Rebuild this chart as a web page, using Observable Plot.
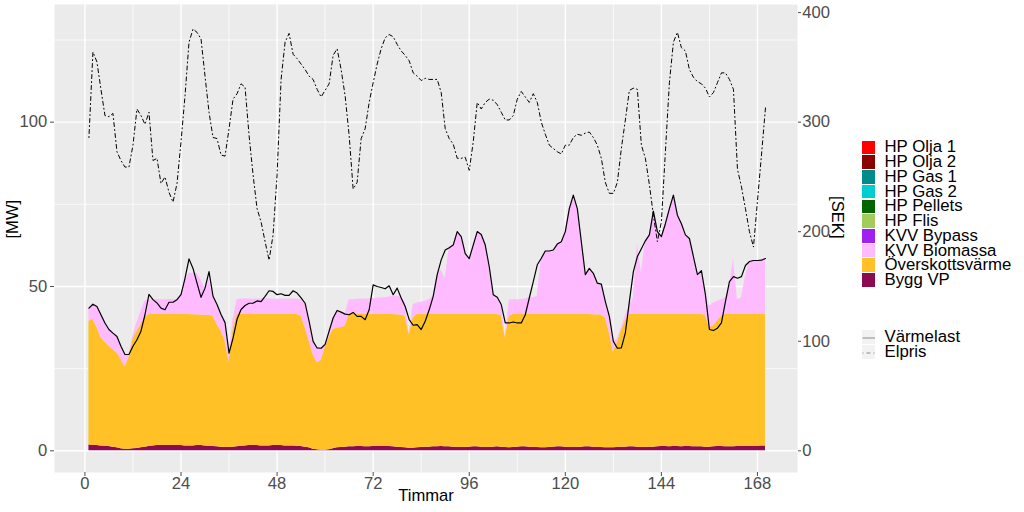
<!DOCTYPE html>
<html><head><meta charset="utf-8">
<script src="https://cdn.jsdelivr.net/npm/d3@7"></script>
<script src="https://cdn.jsdelivr.net/npm/@observablehq/plot@0.6"></script>
<style>
body{margin:0;background:#fff;}
#wrap{position:relative;width:1024px;height:512px;font-family:"Liberation Sans",Arial,sans-serif;}
.leg{position:absolute;left:861.5px;font-size:16.8px;color:#000;font-family:"Liberation Sans",Arial,sans-serif;}
.row{height:14.74px;display:flex;align-items:center;white-space:nowrap;}
.sw{width:13.5px;height:13.5px;margin-right:9.5px;flex:none;}
.lk{width:13.5px;height:14px;margin-right:9.5px;flex:none;background:#F2F2F2;}
</style></head><body><div id="wrap"></div>
<script>
const hours = d3.range(1, 171);
const seriesNames = ["HP Olja 1","HP Olja 2","HP Gas 1","HP Gas 2","HP Pellets","HP Flis","KVV Bypass","KVV Biomassa","Överskottsvärme","Bygg VP"];
const seriesColors = ["#FF0000","#8B0000","#008B8B","#00CED1","#006400","#A2CD5A","#A020F0","#FFBBFF","#FFC125","#8B0A50"];
const lineNames = ["Värmelast","Elpris"];

const byggVP = [1.8,1.7,1.6,1.5,1.4,1.3,1.1,0.9,0.6,0.5,
0.5,0.6,0.7,0.9,1.1,1.3,1.5,1.6,1.6,1.6,
1.6,1.6,1.6,1.6,1.5,1.5,1.5,1.6,1.6,1.5,
1.4,1.3,1.2,1.1,1.0,1.0,1.1,1.2,1.4,1.5,
1.6,1.6,1.6,1.5,1.5,1.5,1.6,1.6,1.6,1.5,
1.5,1.5,1.4,1.3,1.1,0.9,0.5,0.3,0.2,0.2,
0.3,0.6,0.9,1.0,1.1,1.2,1.2,1.3,1.3,1.2,
1.2,1.3,1.4,1.4,1.3,1.3,1.2,1.1,1.0,0.9,
0.8,0.8,0.9,1.0,1.1,1.1,1.2,1.2,1.3,1.2,
1.2,1.1,1.1,1.0,1.0,1.1,1.2,1.2,1.1,1.0,
1.0,1.1,1.2,1.1,1.0,0.9,1.0,1.1,1.2,1.2,
1.1,1.0,1.0,0.9,0.9,1.0,1.1,1.2,1.2,1.1,
1.0,1.0,1.0,1.1,1.2,1.2,1.1,1.0,1.0,0.9,
0.9,0.9,1.0,1.1,1.1,1.2,1.2,1.1,1.0,1.0,
1.1,1.1,1.2,1.3,1.3,1.2,1.3,1.3,1.2,1.3,
1.3,1.2,1.2,1.2,1.1,1.1,1.2,1.3,1.3,1.2,
1.2,1.2,1.3,1.3,1.4,1.4,1.4,1.4,1.5,1.5];

const overskottsvarme = [37.6,38.3,36.0,33.0,31.6,30.5,29.7,28.9,27.3,25.0,
28.0,33.4,35.7,37.5,39.3,40.2,40.0,39.9,39.9,39.9,
39.9,39.9,39.9,39.9,40.0,40.0,39.9,39.8,39.7,39.8,
39.8,39.7,37.3,35.4,32.5,26.0,35.9,40.3,40.1,40.0,
39.9,39.9,39.9,40.0,40.0,40.0,39.9,39.9,39.9,40.0,
40.0,40.0,40.1,39.7,36.4,32.6,28.8,26.5,27.3,31.3,
34.2,36.4,36.4,36.5,36.9,40.3,40.3,40.2,40.2,40.3,
40.3,40.2,40.1,40.1,40.2,40.2,40.3,40.3,40.3,40.1,
34.6,39.7,40.6,40.5,40.4,40.4,40.3,40.3,40.2,40.3,
40.3,40.4,40.4,40.5,40.5,40.4,40.3,40.3,40.4,40.5,
40.5,40.4,40.3,40.1,33.5,40.1,40.5,40.4,40.3,40.3,
40.4,40.5,40.5,40.6,40.6,40.5,40.5,40.4,40.4,40.5,
40.6,40.5,40.5,40.4,40.3,40.3,40.3,40.4,40.3,39.6,
35.1,29.1,32.0,35.4,38.4,40.3,40.3,40.4,40.5,40.5,
40.4,40.4,40.3,40.2,40.2,40.3,40.2,40.2,40.3,40.2,
40.2,40.3,40.3,40.3,40.2,36.4,36.8,38.2,39.7,40.3,
40.3,40.3,40.2,40.2,40.1,40.1,40.1,40.1,40.0,40.0];

const kvvBiomassa = [4.0,4.6,6.3,6.9,5.9,5.1,5.0,5.0,3.9,3.8,
0.8,1.0,2.6,4.1,5.1,4.5,4.5,4.6,4.5,4.5,
4.6,4.5,4.6,6.0,10.0,12.5,12.6,12.6,10.7,8.2,
10.8,6.0,6.0,5.0,5.5,2.7,3.0,4.5,4.7,4.7,
4.7,4.6,4.7,4.7,4.8,4.7,4.7,4.6,4.7,4.7,
4.7,4.7,4.7,5.0,7.4,5.9,4.0,4.5,3.7,0.9,
1.9,3.4,5.4,4.7,3.6,4.5,4.5,4.6,4.6,4.7,
4.7,4.8,4.9,5.0,5.1,5.3,5.5,5.6,5.5,4.0,
0.4,4.0,3.5,3.7,4.0,4.5,5.5,12.1,13.5,11.0,
20.3,21.1,25.2,23.7,18.5,17.0,21.1,25.2,24.3,21.1,
14.5,6.0,5.2,3.3,0.5,4.8,4.5,4.5,4.5,4.7,
5.0,5.1,5.5,17.1,19.3,19.3,19.5,21.3,22.0,25.1,
32.1,36.3,32.2,22.1,12.1,14.0,12.6,9.6,9.4,4.9,
4.9,3.3,1.0,1.0,1.5,2.5,5.0,21.5,12.5,22.4,
24.2,31.4,25.2,23.7,27.6,32.2,36.3,30.2,27.6,24.2,
23.1,17.6,12.1,13.3,6.2,6.5,7.0,6.0,5.0,5.0,
8.5,17.0,4.5,5.0,11.5,16.1,16.4,16.4,16.5,17.0];

const varmelast = [43.4,44.6,43.9,41.4,38.9,36.9,35.8,34.8,31.8,29.3,
29.3,31.8,33.8,36.4,41.4,47.6,46.0,45.0,43.4,42.9,
45.2,45.2,46.0,47.5,52.5,58.4,55.5,51.0,46.7,49.5,
54.5,47.0,44.5,41.5,39.0,29.7,34.3,40.0,43.0,44.2,
44.9,44.9,45.6,45.4,47.0,48.7,48.5,47.5,47.8,47.3,
47.3,48.7,48.0,46.5,44.9,39.4,33.3,31.3,31.2,32.4,
36.4,40.4,42.7,42.2,41.6,41.4,42.1,40.9,40.9,39.9,
42.9,50.5,50.0,49.7,49.3,50.2,47.5,49.5,46.5,43.9,
39.9,38.2,38.4,36.9,39.4,42.9,47.0,53.6,58.1,61.1,
61.8,62.6,66.7,65.2,60.0,58.5,62.6,66.7,65.8,62.6,
56.0,47.5,46.7,44.5,38.9,38.9,39.2,38.9,38.9,41.4,
46.5,51.5,56.6,58.6,60.8,60.8,61.1,62.9,63.6,66.7,
73.7,77.8,73.7,63.6,53.6,55.5,54.0,51.0,50.7,45.4,
40.9,33.3,31.2,31.3,35.9,45.4,54.5,59.1,61.5,63.9,
65.7,72.9,66.7,65.2,69.1,73.7,77.8,71.7,69.1,65.7,
64.6,59.1,53.6,54.8,47.5,36.9,36.6,37.3,38.9,45.4,
51.5,53.0,52.5,53.0,56.4,57.6,57.9,57.9,58.0,58.5];

const elpris = [286,364,355,330,306,305,308,273,265,259,
259,279,312,306,298,309,265,267,244,250,
236,227,244,282,324,373,385,382,376,342,
309,286,285,270,269,294,321,326,335,332,
288,252,221,209,191,174,197,252,339,373,
381,362,358,353,348,342,339,330,323,329,
335,361,367,348,324,288,239,245,285,294,
318,336,353,367,377,380,378,371,365,361,
356,345,342,338,340,339,339,339,327,294,
285,280,267,267,268,256,282,318,312,318,
321,320,316,309,302,302,306,321,328,323,
318,326,318,300,289,279,276,273,271,279,
279,286,289,288,290,291,286,279,267,245,
235,235,245,276,302,329,331,330,279,267,
243,215,191,209,273,336,373,382,368,365,
348,341,337,335,331,323,327,336,345,345,
339,330,257,241,221,200,186,228,270,313];

const xTicks = [0,24,48,72,96,120,144,168];
const xMinor = [12,36,60,84,108,132,156];
const yTicksMW = [0,50,100];
const yMinorMW = [25,75,125];
const yTicksSEK = [0,100,200,300,400];
const sekPerMW = 3;

const stackOrder = ["Bygg VP","Överskottsvärme","KVV Biomassa"];
const stackVals = {"Bygg VP": byggVP, "Överskottsvärme": overskottsvarme, "KVV Biomassa": kvvBiomassa};
const stackTable = stackOrder.flatMap(s => hours.map((h, i) => ({h, s, v: stackVals[s][i]})));
const lineTable = hours.map((h, i) => ({h, last: varmelast[i], pris: elpris[i]}));

const font = '"Liberation Sans", Arial, sans-serif';
const fs = 16.6;
const plot = Plot.plot({
  width: 1024, height: 512,
  marginLeft: 54, marginRight: 227, marginTop: 4, marginBottom: 40,
  style: {fontFamily: font, fontSize: fs + "px", color: "#4D4D4D", background: "white"},
  x: {domain: [-7.6, 178]},
  y: {domain: [-6.6, 135.8]},
  color: {domain: seriesNames, range: seriesColors},
  marks: [
    Plot.frame({fill: "#EBEBEB", stroke: null}),
    Plot.ruleY(yMinorMW, {stroke: "white", strokeWidth: 0.7}),
    Plot.ruleX(xMinor, {stroke: "white", strokeWidth: 0.7}),
    Plot.ruleY(yTicksMW, {stroke: "white", strokeWidth: 1.4}),
    Plot.ruleX(xTicks, {stroke: "white", strokeWidth: 1.4}),
    Plot.areaY(stackTable, Plot.stackY({x: "h", y: "v", z: "s", fill: "s", order: stackOrder})),
    Plot.line(lineTable, {x: "h", y: d => d.pris / sekPerMW, stroke: "black", strokeWidth: 1, strokeDasharray: "1,3,4,3"}),
    Plot.line(lineTable, {x: "h", y: "last", stroke: "black", strokeWidth: 1.2}),
    Plot.axisX(xTicks, {tickSize: 4, tickPadding: 0.5, label: null, fontSize: fs}),
    Plot.axisY(yTicksMW, {anchor: "left", tickSize: 4, tickPadding: 3.3, label: null, fontSize: fs}),
    Plot.axisY(yTicksSEK.map(v => v / sekPerMW), {anchor: "right", tickSize: 3, tickPadding: 1.7, label: null, fontSize: fs, tickFormat: d => String(Math.round(d * sekPerMW))}),
    Plot.text(["[MW]"], {frameAnchor: "left", dx: -42, rotate: -90, fill: "black", fontSize: fs}),
    Plot.text(["[SEK]"], {frameAnchor: "right", dx: 39.5, rotate: 90, fill: "black", fontSize: fs}),
    Plot.text(["Timmar"], {frameAnchor: "bottom", dy: 28.5, fill: "black", fontSize: fs})
  ]
});
const wrap = document.getElementById("wrap");
wrap.appendChild(plot);

// legend (HTML, beside the SVG)
const leg = document.createElement("div");
leg.className = "leg";
leg.style.top = "140px";
seriesNames.forEach((n, i) => {
  const r = document.createElement("div"); r.className = "row";
  const sw = document.createElement("div"); sw.className = "sw"; sw.style.background = seriesColors[i];
  const t = document.createElement("span"); t.textContent = n;
  r.appendChild(sw); r.appendChild(t); leg.appendChild(r);
});
wrap.appendChild(leg);

const leg2 = document.createElement("div");
leg2.className = "leg";
leg2.style.top = "329.5px";
const dashes = ["", "1,3,4,3"];
lineNames.forEach((n, i) => {
  const r = document.createElement("div"); r.className = "row";
  const k = document.createElement("div"); k.className = "lk";
  k.innerHTML = `<svg width="13.5" height="14"><line x1="0.5" x2="13" y1="7" y2="7" stroke="#8a8a8a" stroke-width="1" ${dashes[i] ? `stroke-dasharray="${dashes[i]}"` : ""}/></svg>`;
  const t = document.createElement("span"); t.textContent = n;
  r.appendChild(k); r.appendChild(t); leg2.appendChild(r);
});
wrap.appendChild(leg2);
</script></body></html>
